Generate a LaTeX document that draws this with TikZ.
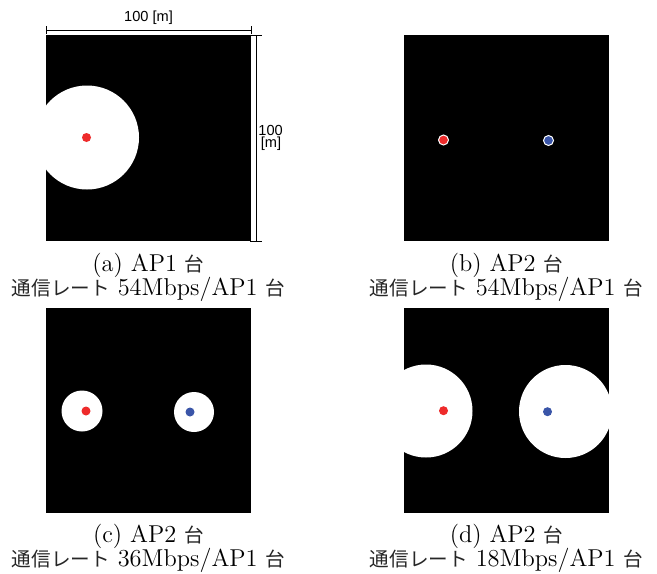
\documentclass[tikz,border=0pt]{standalone}
\usepackage{fontspec}
\newfontfamily\jp{Noto Sans CJK JP}
\newfontfamily\arialf{Liberation Sans}
\newcommand\jpt[1]{{\jp\fontsize{9.8}{10}\selectfont\color{black!85}#1}}
\definecolor{apred}{HTML}{EE2B2B}
\definecolor{apblue}{HTML}{3A55A8}
\begin{document}
\begin{tikzpicture}[x=0.5pt,y=-0.5pt,
  field/.style={fill=black},
  cov/.style={fill=white},
  reddot/.style={circle,fill=apred,inner sep=0pt,minimum size=4.5pt},
  bluedot/.style={circle,fill=apblue,inner sep=0pt,minimum size=4.5pt},
  rimred/.style={reddot,draw=white,line width=0.5pt,minimum size=5pt},
  rimblue/.style={bluedot,draw=white,line width=0.5pt,minimum size=5pt},
  captext/.style={anchor=base,font=\fontsize{12.2}{12.5}\selectfont,inner sep=0pt},
  dim/.style={line width=0.5pt},
  dimlabel/.style={font=\arialf\fontsize{7.3}{6}\selectfont,inner sep=0pt}]
\useasboundingbox (0,0) rectangle (657,573);
% panel (a)
\fill[field] (46,35) rectangle (251,241);
\begin{scope}
  \clip (46,35) rectangle (251,241);
  \fill[cov] (87,137.5) circle (52);
\end{scope}
\node[reddot] (a1) at (86.5,137.5) {};
% dimensions
\coordinate (tl) at (46,30);
\coordinate (tr) at (251,30);
\draw[dim] (tl) -- (tr);
\draw[dim] ([yshift=2]tl) -- ([yshift=-2]tl);
\draw[dim] ([yshift=2]tr) -- ([yshift=-2]tr);
\node[dimlabel] (wl) at (148.5,18) {100 [m]};
\coordinate (rt) at (256,35);
\coordinate (rb) at (256,241);
\draw[dim] (rt) -- (rb);
\draw[dim] ([xshift=-3]rt) -- ([xshift=3]rt);
\draw[dim] ([xshift=-3]rb) -- ([xshift=3]rb);
\node[dimlabel,anchor=west,align=left,font=\arialf\fontsize{7.3}{6}\selectfont] (hl) at (258,137.5) {100\\\,[m]};
\node[captext] (capa1) at (148.5,271) {(a) AP1 \jpt{台}};
\node[captext] (capa2) at (148.5,295) {\jpt{通信レート} 54Mbps/AP1 \jpt{台}};
% panel (b)
\fill[field] (404,35) rectangle (609,241);
\node[rimred] (b1) at (443.5,140) {};
\node[rimblue] (b2) at (548.5,140.5) {};
\node[captext] (capb1) at (506.5,271) {(b) AP2 \jpt{台}};
\node[captext] (capb2) at (506.5,295) {\jpt{通信レート} 54Mbps/AP1 \jpt{台}};
% panel (c)
\fill[field] (46,308) rectangle (251,513);
\fill[cov] (82,411) circle (20.5);
\fill[cov] (194,412) circle (20);
\node[reddot] (c1) at (86,411) {};
\node[bluedot] (c2) at (190,412) {};
\node[captext] (capc1) at (148.5,542) {(c) AP2 \jpt{台}};
\node[captext] (capc2) at (148.5,566) {\jpt{通信レート} 36Mbps/AP1 \jpt{台}};
% panel (d)
\fill[field] (404,308) rectangle (609,513);
\begin{scope}
  \clip (404,308) rectangle (609,513);
  \fill[cov] (426,411) circle (46.5);
  \fill[cov] (565.5,411.5) circle (46.5);
\end{scope}
\node[reddot] (d1) at (443.5,410.7) {};
\node[bluedot] (d2) at (547.5,411.7) {};
\node[captext] (capd1) at (506.5,542) {(d) AP2 \jpt{台}};
\node[captext] (capd2) at (506.5,566) {\jpt{通信レート} 18Mbps/AP1 \jpt{台}};
\end{tikzpicture}
\end{document}
